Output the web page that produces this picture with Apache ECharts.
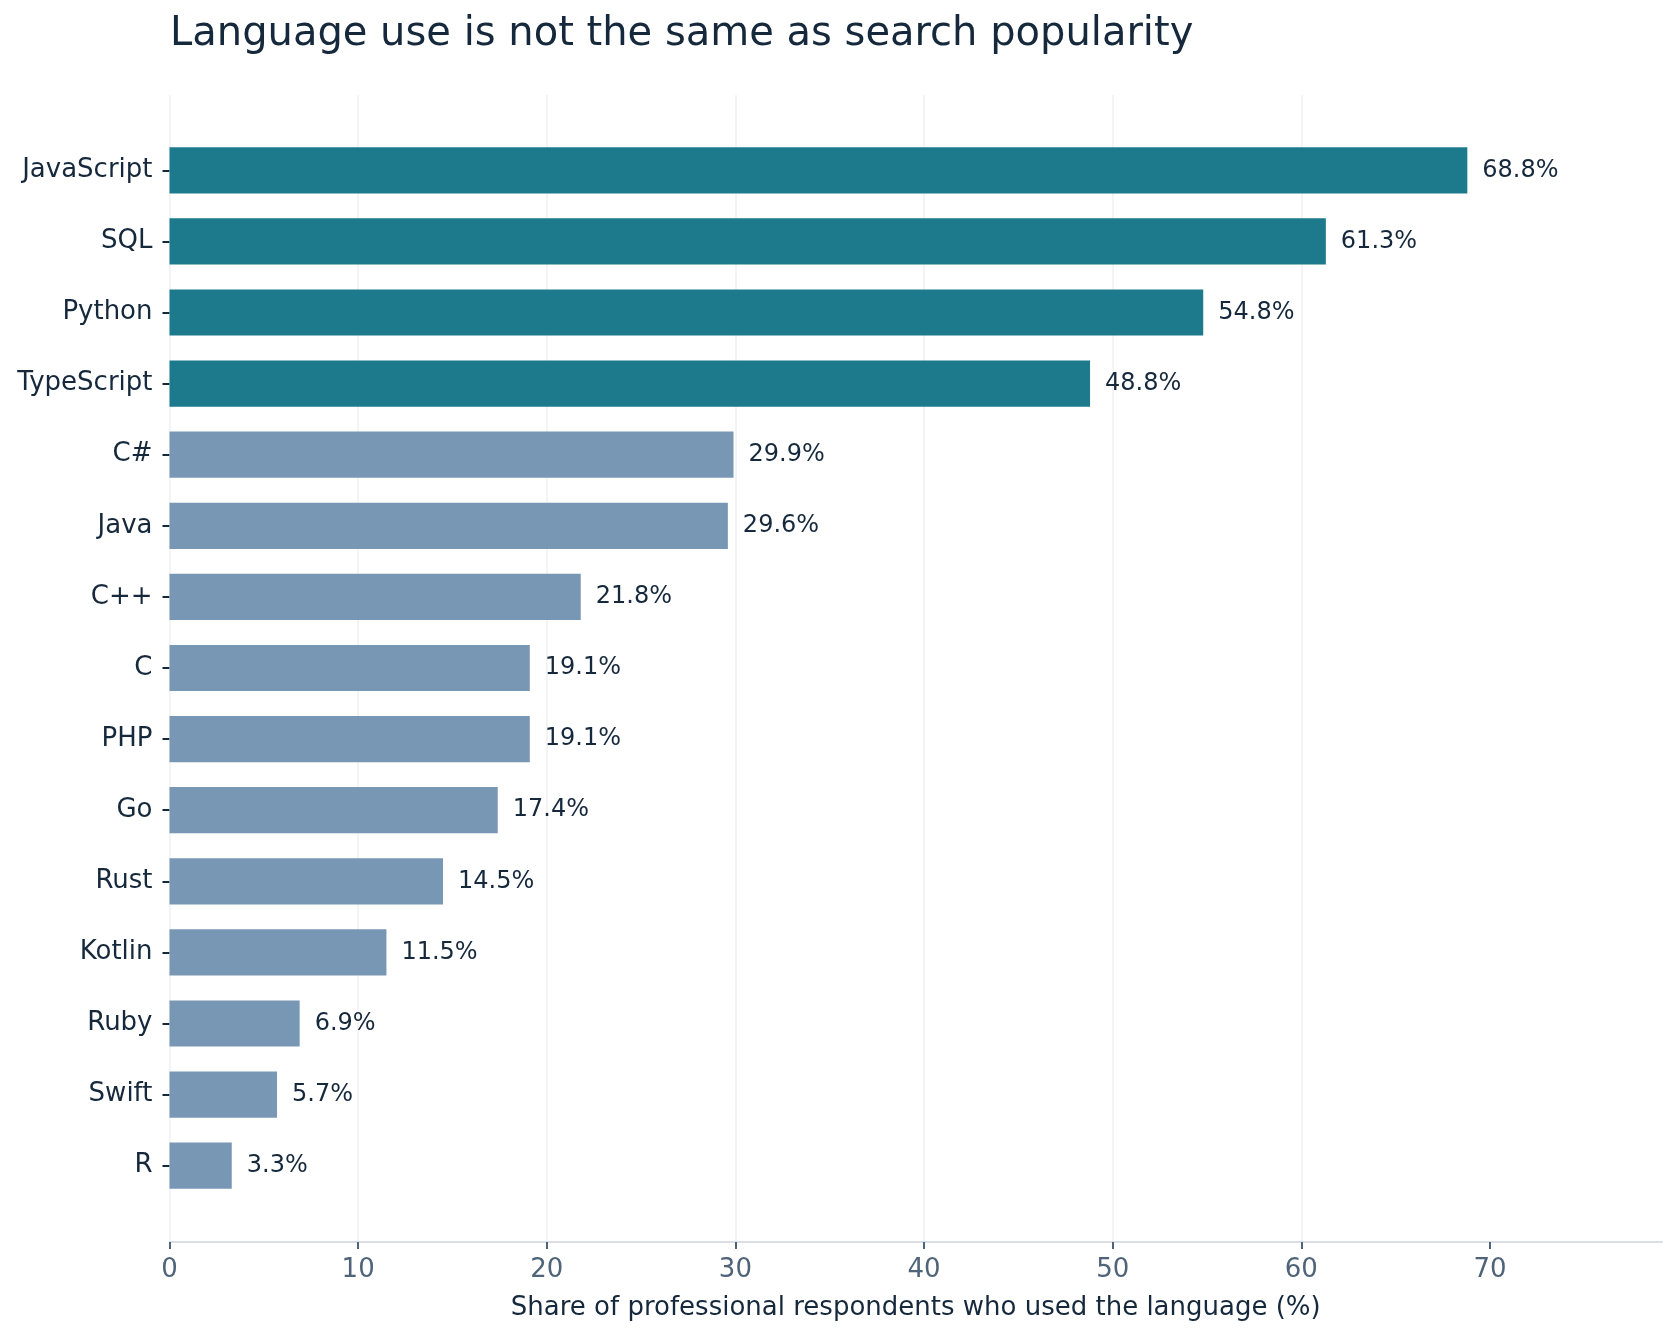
<!DOCTYPE html>
<html lang="en">
<head>
    <meta charset="UTF-8">
    <title>Language use</title>
    <script src="https://cdn.jsdelivr.net/npm/echarts@6/dist/echarts.min.js"></script>
    <style>
        html, body { margin: 0; padding: 0; background: #fff; }
        #main { width: 1677px; height: 1337px; }
    </style>
</head>
<body>
<div id="main"></div>
<script>
    // survey data, top to bottom
    var languages = ['JavaScript', 'SQL', 'Python', 'TypeScript', 'C#', 'Java', 'C++', 'C',
        'PHP', 'Go', 'Rust', 'Kotlin', 'Ruby', 'Swift', 'R'];
    var shares = [68.8, 61.3, 54.8, 48.8, 29.9, 29.6, 21.8, 19.1, 19.1, 17.4, 14.5, 11.5, 6.9, 5.7, 3.3];
    var xTicks = [0, 10, 20, 30, 40, 50, 60, 70];
    var highlighted = ['JavaScript', 'SQL', 'Python', 'TypeScript'];

    var font = 'DejaVu Sans';
    var dark = '#16293c';
    var xMax = 79.12;

    var chart = echarts.init(document.getElementById('main'));
    chart.setOption({
        animation: false,
        textStyle: { fontFamily: font },
        title: {
            text: 'Language use is not the same as search popularity',
            left: 165,
            top: 10,
            textStyle: { fontFamily: font, fontSize: 40, fontWeight: 'normal', color: dark }
        },
        grid: [
            // frame: gridlines + x axis
            { left: 169.5, right: 15, top: 95, bottom: 95 },
            // bars
            { left: 169.5, right: 15, top: 134.75, bottom: 135.75 }
        ],
        xAxis: [
            {
                gridIndex: 0,
                type: 'value',
                min: 0,
                max: xMax,
                interval: 10,
                name: 'Share of professional respondents who used the language (%)',
                nameLocation: 'middle',
                nameGap: 53,
                nameTextStyle: { fontFamily: font, fontSize: 26, color: dark },
                axisLine: { show: true, lineStyle: { color: '#d9dfe5', width: 2 } },
                axisTick: { show: true, customValues: xTicks, length: 7, lineStyle: { color: '#4f6479', width: 2 } },
                axisLabel: {
                    customValues: xTicks,
                    fontFamily: font, fontSize: 26, color: '#4f6479', margin: 15
                },
                splitLine: { show: true, showMaxLine: false, lineStyle: { color: '#eef0f2', width: 1.5 } }
            },
            { gridIndex: 1, type: 'value', min: 0, max: xMax, show: false }
        ],
        yAxis: [
            { gridIndex: 0, type: 'value', show: false },
            {
                gridIndex: 1,
                type: 'category',
                inverse: true,
                data: languages,
                axisLine: { show: false },
                axisTick: { show: true, alignWithLabel: true, length: 7, lineStyle: { color: dark, width: 2 } },
                axisLabel: {
                    fontFamily: font, fontSize: 26, color: dark, margin: 17,
                    verticalAlign: 'middle', lineHeight: 26, padding: [6, 0, 0, 0]
                },
                splitLine: { show: false }
            }
        ],
        series: [{
            type: 'bar',
            xAxisIndex: 1,
            yAxisIndex: 1,
            data: shares,
            barWidth: '65%',
            itemStyle: {
                color: function (p) {
                    return highlighted.indexOf(languages[p.dataIndex]) >= 0 ? '#1c7a8c' : '#7897b4';
                }
            },
            label: {
                show: true,
                position: 'right',
                distance: 15,
                lineHeight: 24,
                padding: [6, 0, 0, 0],
                fontFamily: font,
                fontSize: 24,
                color: dark,
                formatter: function (p) { return p.value.toFixed(1) + '%'; }
            }
        }]
    });
</script>
</body>
</html>
